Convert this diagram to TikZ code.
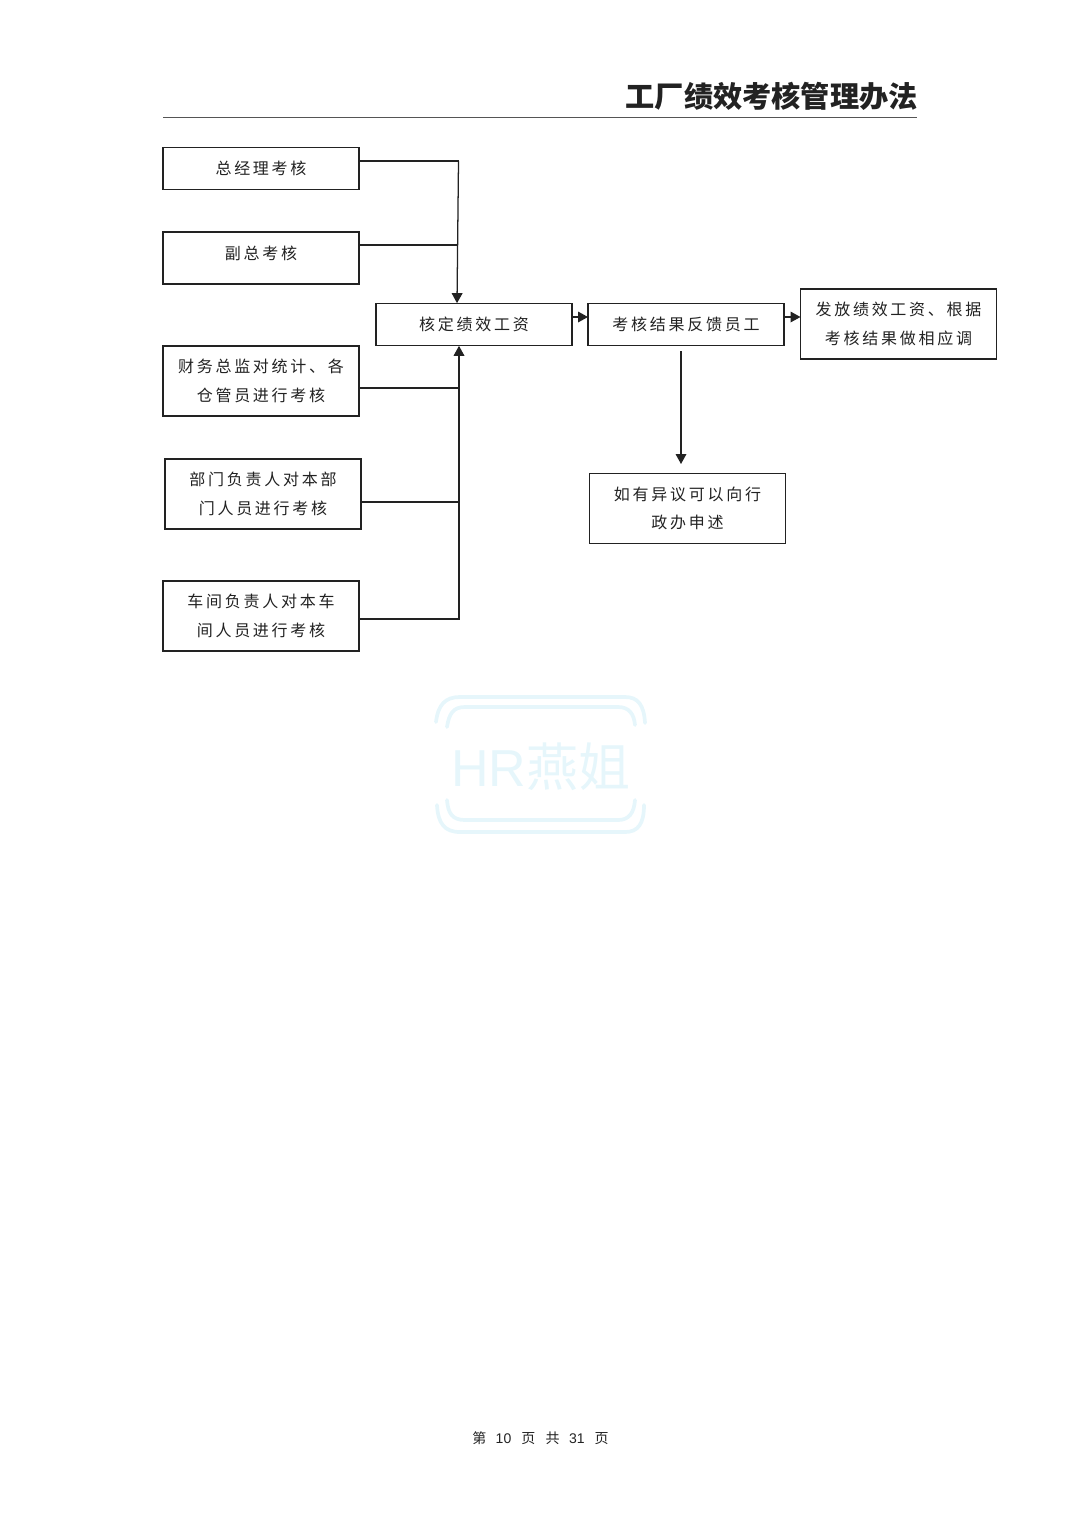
\documentclass[tikz,border=0pt]{standalone}
\usepackage{fontspec}
\setmainfont{Liberation Sans}
\newfontfamily\cjk[LetterSpace=17]{Noto Sans CJK SC}
\newfontfamily\cjkplain{Noto Sans CJK SC}
\definecolor{ink}{HTML}{222222}
\definecolor{wm}{HTML}{E6F6FB}
\definecolor{rulec}{HTML}{555555}
\usetikzlibrary{arrows.meta}
\tikzset{
  flowbox/.style={draw=ink,line width=0.95pt,fill=white,minimum width=147pt,inner sep=0pt,outer sep=0pt,align=center,text=ink,font=\cjk\fontsize{12}{21.5}\selectfont},
  conn/.style={draw=ink,line width=0.95pt},
  arr/.style={conn,-{Triangle[length=7.5pt,width=8pt]}},
  wmline/.style={draw=wm,line width=2.8pt,line cap=round}
}
\begin{document}
\begin{tikzpicture}[x=0.75pt,y=-0.75pt]
\useasboundingbox (0,0) rectangle (1080,1528);
% header
\node[anchor=east,inner sep=0pt,text=ink,font=\cjkplain\bfseries\fontsize{21.9}{26}\selectfont] (title) at (918,96) {工厂绩效考核管理办法};
\coordinate (ruleL) at (163,117.5);
\coordinate (ruleR) at (917,117.5);
\draw[rulec,line width=0.7pt] (ruleL) -- (ruleR);
% left boxes
\node[flowbox,minimum height=32pt] (A) at (261,168.5) {总经理考核};
\node[flowbox,minimum height=39pt] (B) at (261,258) {\raisebox{7.5pt}{副总考核}};
\node[flowbox,minimum height=52.5pt] (C) at (261,381) {财务总监对统计、各\\仓管员进行考核};
\node[flowbox,minimum height=52.5pt] (D) at (263,494) {部门负责人对本部\\门人员进行考核};
\node[flowbox,minimum height=52.5pt] (E) at (261,616) {车间负责人对本车\\间人员进行考核};
% middle row
\node[flowbox,minimum height=32pt] (F) at (474,324.5) {核定绩效工资};
\node[flowbox,minimum height=32pt] (G) at (686,324.5) {考核结果反馈员工};
\node[flowbox,minimum height=52.5pt] (H) at (898.5,324) {发放绩效工资、根据\\考核结果做相应调};
\node[flowbox,minimum height=52.5pt] (I) at (687.5,508.5) {如有异议可以向行\\政办申述};
% junctions
\coordinate (j1) at (458.5,161);
\coordinate (j2) at (458,245);
\coordinate (jf) at (457,303);
\coordinate (j3) at (458.5,388);
\coordinate (j4) at (458.5,502);
\coordinate (j5) at (459,619);
\coordinate (ff) at (572,317);
\coordinate (gd) at (681,351);
\coordinate (ge) at (681,464);
% connectors
\draw[conn] (A.east |- j1) -- (j1);
\draw[arr] (j1) -- (F.north -| jf);
\draw[conn] (B.east |- j2) -- (j2);
\draw[conn] (C.east |- j3) -- (j3);
\draw[conn] (D.east |- j4) -- (j4);
\draw[arr] (E.east |- j5) -- (j5) -- (F.south -| j5);
\draw[arr] (F.east |- ff) -- (G.west |- ff);
\draw[arr] (G.east |- ff) -- (H.west |- ff);
\draw[arr] (gd) -- (ge);
% watermark
\draw[wmline] (436,722) .. controls (438,705) and (445,697) .. (460,697) -- (625,697) .. controls (638,697) and (644,705) .. (645,723);
\draw[wmline] (447,727) .. controls (449,714) and (453,707) .. (465,707) -- (618,707) .. controls (629,707) and (634,714) .. (635,725);
\draw[wmline] (447,800) .. controls (448,813) and (452,820) .. (465,820) -- (618,820) .. controls (629,820) and (634,813) .. (635,800);
\draw[wmline] (437,805) .. controls (438,824) and (445,832) .. (460,832) -- (625,832) .. controls (638,832) and (644,824) .. (644,805);
\node[inner sep=0pt,text=wm,font=\fontsize{39}{44}\selectfont] (wmtext) at (541,767) {HR{\cjkplain 燕姐}};
% footer
\node[inner sep=0pt,text=ink,font=\fontsize{10.5}{13}\selectfont] (foot) at (540.5,1438) {{\cjkplain 第}\hspace{7pt}10\hspace{7.5pt}{\cjkplain 页}\hspace{7.8pt}{\cjkplain 共}\hspace{7pt}31\hspace{7.5pt}{\cjkplain 页}};
\end{tikzpicture}
\end{document}
